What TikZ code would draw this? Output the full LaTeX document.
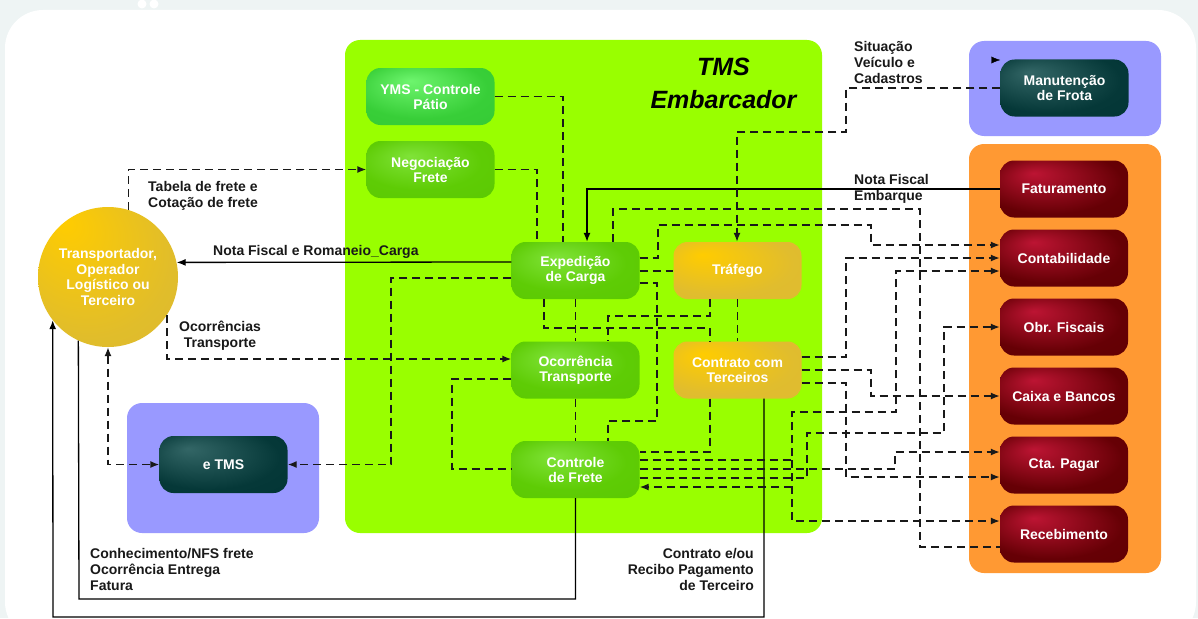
\documentclass[tikz,border=0pt]{standalone}
\usepackage{fontspec}
\setmainfont{Liberation Sans}
\usetikzlibrary{arrows.meta,calc}
\definecolor{bgGrey}{RGB}{238,244,244}
\definecolor{panelGreen}{RGB}{153,255,0}
\definecolor{panelBlue}{RGB}{153,153,255}
\definecolor{panelOrange}{RGB}{255,153,51}
\definecolor{lineCol}{RGB}{25,25,25}
\pgfdeclareradialshading{shG}{\pgfpoint{-8bp}{12bp}}{rgb(0bp)=(0.50,0.89,0.22); rgb(24bp)=(0.37,0.80,0.02); rgb(50bp)=(0.35,0.78,0.0)}
\pgfdeclareradialshading{shY}{\pgfpoint{-8bp}{14bp}}{rgb(0bp)=(0.43,0.96,0.43); rgb(26bp)=(0.22,0.81,0.22); rgb(50bp)=(0.20,0.78,0.20)}
\pgfdeclareradialshading{shO}{\pgfpoint{-14bp}{14bp}}{rgb(0bp)=(1.0,0.80,0.0); rgb(28bp)=(0.88,0.74,0.18); rgb(50bp)=(0.87,0.73,0.20)}
\pgfdeclareradialshading{shT}{\pgfpoint{-14bp}{14bp}}{rgb(0bp)=(0.20,0.40,0.40); rgb(28bp)=(0.02,0.22,0.22); rgb(50bp)=(0.0,0.20,0.20)}
\pgfdeclareradialshading{shR}{\pgfpoint{-12bp}{14bp}}{rgb(0bp)=(0.74,0.08,0.20); rgb(28bp)=(0.40,0.0,0.02); rgb(50bp)=(0.37,0.0,0.0)}
\pgfdeclareradialshading{shC}{\pgfpoint{-16bp}{20bp}}{rgb(0bp)=(1.0,0.80,0.0); rgb(30bp)=(0.88,0.74,0.17); rgb(50bp)=(0.87,0.73,0.18)}
\begin{document}
\begin{tikzpicture}[x=1pt,y=-1pt,
  base/.style={rectangle, rounded corners=14pt, minimum width=128pt, minimum height=57pt,
    inner sep=0pt, align=center, text=white, font=\bfseries\fontsize{14}{15}\selectfont},
  gbox/.style={base, shade, shading=shG},
  ymsbox/.style={base, shade, shading=shY},
  ybox/.style={base, shade, shading=shO},
  tbox/.style={base, shade, shading=shT},
  rbox/.style={base, shade, shading=shR},
  circnode/.style={circle, minimum size=140pt, inner sep=0pt, align=center, text=white,
    shade, shading=shC, font=\bfseries\fontsize{14}{15.5}\selectfont},
  lbl/.style={inner sep=0pt, text=lineCol, font=\bfseries\fontsize{14}{16}\selectfont},
  dl/.style={draw=lineCol, line width=1.4pt, dash pattern=on 8pt off 5pt},
  sl/.style={draw=black, line width=1.3pt},
  arr/.style={-{Latex[length=9pt,width=7pt]}},
  darr/.style={{Latex[length=9pt,width=7pt]}-{Latex[length=9pt,width=7pt]}}
]
\useasboundingbox (0,0) rectangle (1198,618);
% background
\fill[bgGrey] (0,0) rectangle (1198,618);
\fill[white, rounded corners=38pt] (5,10) rectangle (1196,640);
\fill[white] (142,4) circle (4.5);
\fill[white] (154,4) circle (4.5);
% panels
\fill[panelGreen, rounded corners=15pt] (345,40) rectangle (822,533);
\fill[panelBlue, rounded corners=15pt] (969,41) rectangle (1161,136);
\fill[panelOrange, rounded corners=15pt] (969,144) rectangle (1161,573);
\fill[panelBlue, rounded corners=15pt] (127,403) rectangle (319,533);

% title
\node[font=\bfseries\itshape\fontsize{25}{33}\selectfont, align=center, inner sep=0pt] (tmsTitle) at (723.5,83.5) {TMS\\Embarcador};

% nodes
\node[circnode] (tr) at (108,277) {Transportador,\\Operador\\Logístico ou\\Terceiro};
\node[ymsbox] (yms) at (430.5,96.5) {YMS - Controle\\Pátio};
\node[gbox] (neg) at (430.5,169.5) {Negociação\\Frete};
\node[gbox] (exp) at (575.5,270.5) {Expedição\\de Carga};
\node[ybox] (traf) at (737.5,270.5) {Tráfego};
\node[gbox] (oco) at (575.5,370) {Ocorrência\\Transporte};
\node[ybox] (cont) at (737.5,370) {Contrato com\\Terceiros};
\node[gbox] (ctrl) at (575.5,469.5) {Controle\\de Frete};
\node[tbox] (etms) at (223.5,464.5) {e TMS};
\node[tbox] (man) at (1064.5,88) {Manutenção\\de Frota};
\node[rbox] (fat) at (1064,189) {Faturamento};
\node[rbox] (contab) at (1064,258) {Contabilidade};
\node[rbox] (obr) at (1064,327) {Obr. Fiscais};
\node[rbox] (caixa) at (1064,396) {Caixa e Bancos};
\node[rbox] (cta) at (1064,465) {Cta. Pagar};
\node[rbox] (rec) at (1064,534) {Recebimento};

% labels
\node[lbl, anchor=west, align=left] (lTab) at (148,195.5) {Tabela de frete e\\Cotação de frete};
\node[lbl, anchor=west] (lNF) at (213,252) {Nota Fiscal e Romaneio\_Carga};
\node[lbl, align=center] (lOco) at (220,336) {Ocorrências\\Transporte};
\node[lbl, anchor=west, align=left] (lCon) at (90,569) {Conhecimento/NFS frete\\Ocorrência Entrega\\Fatura};
\node[lbl, anchor=east, align=right] (lCtr) at (754,569) {Contrato e/ou\\Recibo Pagamento\\de Terceiro};
\node[lbl, anchor=west, align=left] (lSit) at (854,62) {Situação\\Veículo e\\Cadastros};
\node[lbl, anchor=west, align=left] (lEmb) at (854,189) {Nota Fiscal\\Embarque};

% solid connectors
\draw[sl, arr] (exp.west |- 0,262) -- (tr.12.4);
\draw[sl, arr] (fat.west) -- (587,0 |- fat.west) -- (587,0 |- exp.north);
\draw[sl] (ctrl.south) -- (ctrl.south |- 0,599) -- (79,599) -- (tr.245.5);
\draw[sl, arr] (764,0 |- cont.south) -- (764,617) -- (53,617) -- (tr.218.2);

% dashed connectors, left side
\draw[dl, arr] (tr.73.4) |- (neg.west);
\draw[dl, arr] (tr.327.4) |- (oco.west |- 0,359);
\draw[dl, darr] (tr.south) |- (etms.west);
\draw[dl, arr] (exp.west |- 0,278) -- (391,278) -- (391,0 |- etms.east) -- (etms.east);
\draw[dl] (oco.west |- 0,379) -- (452,379) -- (452,469) -- (ctrl.west |- 0,469);
\draw[dl] (yms.east) -| (563,0 |- exp.north);
\draw[dl] (neg.east) -| (537,0 |- exp.north);
\draw[dl, arr] (man.west) -- (846,88) -- (846,132) -- (737,132) -- (737,0 |- traf.north);
\coordinate (stray) at (992.5,60);
\draw[sl, arr, line width=0.4pt] (stray) -- (man.west |- stray);

% inside TMS
\draw[dl] (613,0 |- exp.north) -- (613,209) -- (920,209) -- (920,547) -- (rec.west |- 0,547);
\draw[dl, arr] (exp.east |- 0,258) -- (658,258) -- (658,225) -- (871,225) -- (871,245) -- (contab.west |- 0,245);
\draw[dl] (exp.east |- 0,271) -- (traf.west |- 0,271);
\draw[dl] (exp.east |- 0,283) -- (657,283) -- (657,421) -- (608,421) -- (608,0 |- ctrl.north);
\draw[dl] (710,0 |- traf.south) -- (710,316) -- (608,316) -- (608,0 |- oco.north);
\draw[dl] (544,0 |- exp.south) -- (544,328) -- (710,328) -- (710,0 |- cont.north);
\draw[dl] (exp.south) -- (oco.north);
\draw[dl] (traf.south) -- (cont.north);
\draw[dl] (oco.south) -- (ctrl.north);
\draw[dl] (710,0 |- cont.south) -- (710,452) -- (ctrl.east |- 0,452);

% right side
\draw[dl, arr] (cont.east |- 0,357) -- (846,357) -- (846,258) -- (contab.west);
\draw[dl, arr] (cont.east |- 0,370) -- (871,370) -- (871,396) -- (caixa.west);
\draw[dl, arr] (cont.east |- 0,383) -- (846,383) -- (846,477) -- (cta.west |- 0,477);
\draw[dl, arr] (ctrl.east |- 0,460) -- (792,460) -- (792,412) -- (896,412) -- (896,271) -- (contab.west |- 0,271);
\draw[dl, arr] (792,460) -- (792,521) -- (rec.west |- 0,521);
\coordinate (j1) at (792,487);
\draw[dl, arr] (j1) -- (ctrl.east |- j1);
\draw[dl, arr] (ctrl.east |- 0,469) -- (895,469) -- (895,452) -- (cta.west |- 0,452);
\draw[dl, arr] (ctrl.east |- 0,478) -- (807,478) -- (807,433) -- (944,433) -- (944,327) -- (obr.west);
\end{tikzpicture}
\end{document}
